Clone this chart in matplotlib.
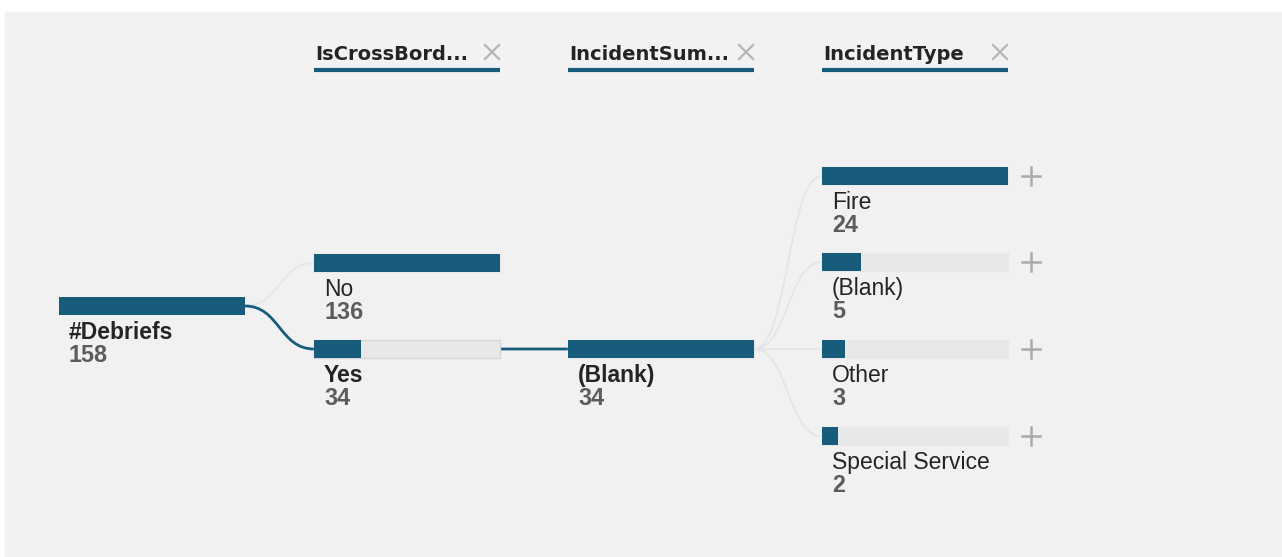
import matplotlib
matplotlib.use("Agg")
import matplotlib.pyplot as plt
from matplotlib.path import Path
from matplotlib.patches import PathPatch, Rectangle

plt.rcParams["font.family"] = ["Liberation Sans", "DejaVu Sans"]

# data
level_titles = ["IsCrossBord...", "IncidentSum...", "IncidentType"]
root_label = "#Debriefs"
root_value = 158
cross_labels = ["No", "Yes"]
cross_values = [136, 34]
summary_labels = ["(Blank)"]
summary_values = [34]
type_labels = ["Fire", "(Blank)", "Other", "Special Service"]
type_values = [24, 5, 3, 2]

# layout (pixels)
W, H = 1282, 557
bar_w = 186
bar_h = 18
col_x = [59, 314, 568, 822]
teal = "#175c7a"
track = "#e8e8e8"
label_col = "#252423"
value_col = "#5c5c5c"

fig = plt.figure(figsize=(W / 100, H / 100), dpi=100)
ax = fig.add_axes([0, 0, 1, 1])
ax.set_xlim(0, W)
ax.set_ylim(H, 0)
ax.axis("off")

# background
ax.add_patch(Rectangle((5, 12), W - 5, H - 12, color="#f1f1f1", zorder=0))
ax.add_patch(Rectangle((10, 12), W - 10, 76, color="#f2f2f2", zorder=0))


def curve(x0, y0, x1, y1, color, lw):
    mx = (x0 + x1) / 2
    p = Path([(x0, y0), (mx, y0), (mx, y1), (x1, y1)],
             [Path.MOVETO, Path.CURVE4, Path.CURVE4, Path.CURVE4])
    ax.add_patch(PathPatch(p, fc="none", ec=color, lw=lw, zorder=1))


def node(x, yc, value, maxv, label, bold, border=False, show_track=True):
    if show_track:
        ax.barh(yc, bar_w, left=x, height=bar_h, color=track,
                edgecolor="#d6d6d6" if border else track, lw=1, zorder=2)
    ax.barh(yc, value / maxv * bar_w, left=x, height=bar_h, color=teal, zorder=3)
    bottom = yc + bar_h / 2
    ax.text(x + 10, bottom + 24, label, fontsize=16.5, color=label_col,
            fontweight="bold" if bold else "normal", va="baseline", ha="left")
    ax.text(x + 10, bottom + 47, str(value), fontsize=16.8, color=value_col,
            fontweight="bold", va="baseline", ha="left")


def plus(x, y):
    ax.plot([x - 9, x + 9], [y, y], color="#ababab", lw=1.8, zorder=3)
    ax.plot([x, x], [y - 9, y + 9], color="#ababab", lw=1.8, zorder=3)


# headers
for i, t in enumerate(level_titles):
    x = col_x[i + 1]
    ax.text(x + 1, 60, t, fontsize=14, fontweight="bold", color=label_col,
            family="DejaVu Sans", va="baseline", ha="left")
    cx, cy = x + bar_w - 8, 52
    ax.plot([cx - 7, cx + 7], [cy - 7, cy + 7], color="#b5b5b5", lw=1.6)
    ax.plot([cx - 7, cx + 7], [cy + 7, cy - 7], color="#b5b5b5", lw=1.6)
    ax.plot([x, x + bar_w], [70, 70], color=teal, lw=3, solid_capstyle="butt")

# rows
root_y = 306
cross_y = [263, 349]
summary_y = [349]
type_y = [176, 262, 349, 436]

# connectors
curve(col_x[0] + bar_w, root_y, col_x[1], cross_y[0], "#e6e6e6", 1.2)
curve(col_x[0] + bar_w, root_y, col_x[1], cross_y[1], teal, 2)
curve(col_x[1] + bar_w, cross_y[1], col_x[2], summary_y[0], teal, 2)
for y in type_y:
    curve(col_x[2] + bar_w, summary_y[0], col_x[3], y, "#e4e4e4", 1.2)

node(col_x[0], root_y, root_value, root_value, root_label, True, show_track=False)
for lab, v, y in zip(cross_labels, cross_values, cross_y):
    node(col_x[1], y, v, max(cross_values), lab, lab == "Yes", border=(lab == "Yes"))
for lab, v, y in zip(summary_labels, summary_values, summary_y):
    node(col_x[2], y, v, max(summary_values), lab, True)
for lab, v, y in zip(type_labels, type_values, type_y):
    node(col_x[3], y, v, max(type_values), lab, False)
    plus(col_x[3] + bar_w + 23, y)

fig.savefig("out.png", dpi=100)
